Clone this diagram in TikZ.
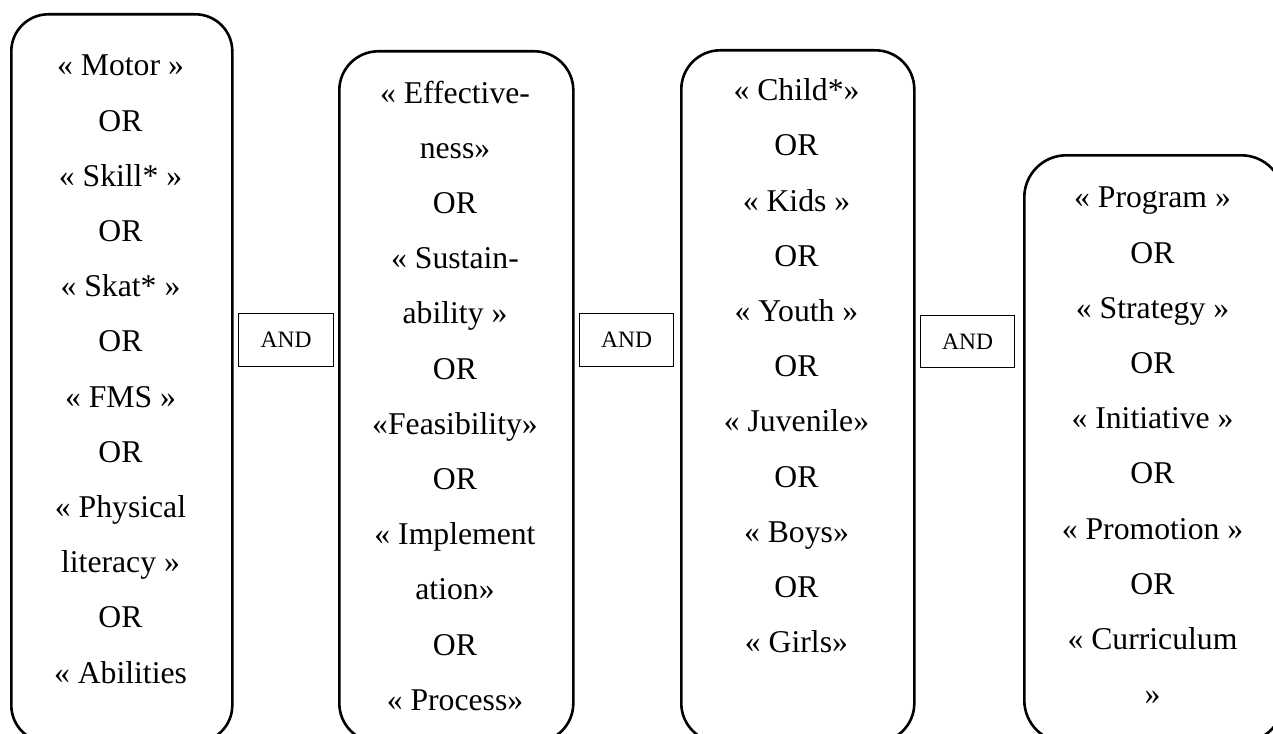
\documentclass[tikz,border=0pt]{standalone}
\usepackage{fontspec}
\setmainfont{Liberation Serif}
\begin{document}
\begin{tikzpicture}[x=1pt,y=-1pt,
  group/.style={draw, line width=2.6pt, rounded corners=#1, inner sep=0pt,
    anchor=north west},
  terms/.style={font=\fontsize{31.7}{55.2}\selectfont, align=center,
    anchor=north, inner sep=0pt},
  andbox/.style={draw, line width=1.1pt, inner sep=0pt, anchor=north west,
    font=\fontsize{23.5}{26}\selectfont}]
\useasboundingbox (0,0) rectangle (1273,733);
\clip (0,0) rectangle (1273,733);

% search-term groups (rounded boxes, running off the lower edge)
\node[group=37pt, minimum width=221pt, minimum height=728pt] (g1) at (10,13) {};
\node[group=39pt, minimum width=234pt, minimum height=691pt] (g2) at (338,50) {};
\node[group=39pt, minimum width=233pt, minimum height=692pt] (g3) at (680,49) {};
\node[group=42pt, minimum width=259pt, minimum height=587pt] (g4) at (1023,154) {};

% terms inside each group
\node[terms] (t1) at (120.5,55) {« Motor »\\OR\\« Skill* »\\OR\\« Skat* »\\OR\\« FMS »\\OR\\« Physical\\literacy »\\OR\\« Abilities};
\node[terms] (t2) at (455,80.5) {« Effective-\\ness»\\OR\\« Sustain-\\ability »\\OR\\«Feasibility»\\OR\\« Implement\\ation»\\OR\\« Process»};
\node[terms] (t3) at (796.5,78.5) {« Child*»\\OR\\« Kids »\\OR\\« Youth »\\OR\\« Juvenile»\\OR\\« Boys»\\OR\\« Girls»};
\node[terms] (t4) at (1152.5,187) {« Program »\\OR\\« Strategy »\\OR\\« Initiative »\\OR\\« Promotion »\\OR\\« Curriculum\\»};

% boolean operators between the groups
\node[andbox, minimum width=95pt, minimum height=53pt] (a1) at (238,313) {AND};
\node[andbox, minimum width=94pt, minimum height=53pt] (a2) at (579,313) {AND};
\node[andbox, minimum width=94pt, minimum height=52pt] (a3) at (920,315) {AND};
\end{tikzpicture}
\end{document}
